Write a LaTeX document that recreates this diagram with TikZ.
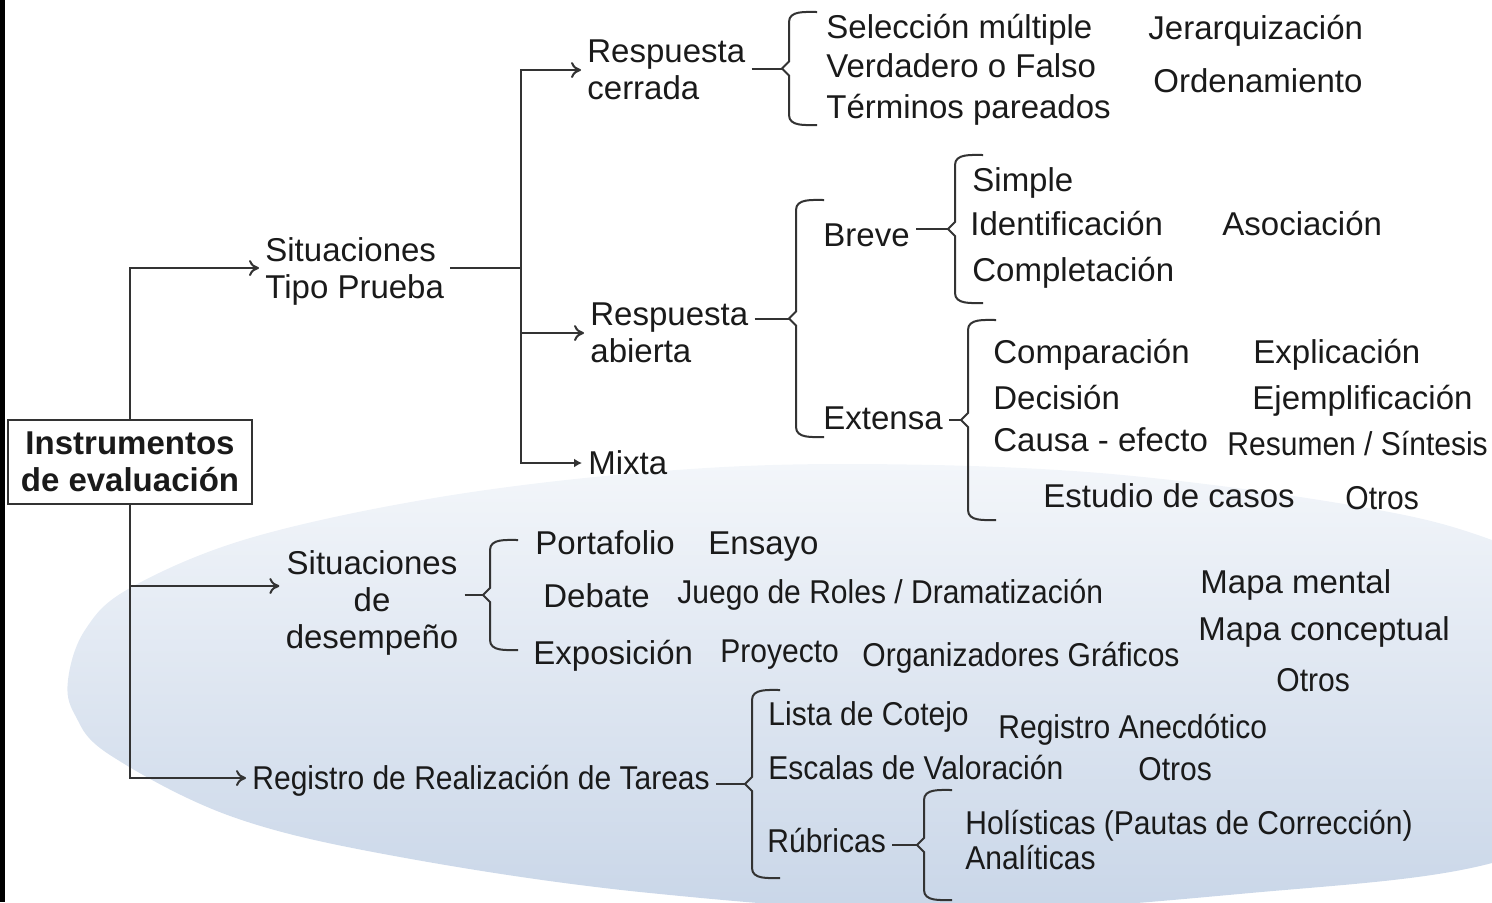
\documentclass[tikz,border=0pt]{standalone}
\usepackage{fontspec}
\setmainfont{Liberation Sans}
\newfontfamily\estrecha[FakeStretch=0.91]{Liberation Sans}
\usetikzlibrary{arrows.meta}
\definecolor{tinta}{HTML}{1A1A1A}
\definecolor{trazo}{HTML}{333333}
\definecolor{elipsearriba}{HTML}{F3F6FA}
\definecolor{elipseabajo}{HTML}{C9D6E8}
\tikzstyle{letra}=[
      text = tinta,
      font = \fontsize{16.5}{18.5}\selectfont
      ]
\tikzstyle{texto}=[
      letra,
      anchor = west,
      inner sep = 0pt,
      text height = 13pt,
      text depth = 2pt
      ]
\tikzstyle{angosto}=[texto, font = \estrecha\fontsize{16.5}{18.5}\selectfont]
\tikzstyle{rama}=[texto, inner sep = 3pt]
\tikzstyle{rama2}=[letra, anchor = west, inner sep = 3pt, align = left]
\tikzstyle{linea}=[draw = trazo, line width = 1pt]
\tikzstyle{flecha}=[linea, -{To[length=5pt,width=8pt]}]
\tikzstyle{flechallena}=[linea, -{Latex[length=4pt,width=4.5pt]}]
\tikzstyle{caja}=[
      rectangle,
      draw = trazo,
      line width = 1pt,
      fill = white,
      minimum width = 122pt,
      minimum height = 42pt,
      align = center,
      text = tinta,
      font = \bfseries\fontsize{16.5}{18.5}\selectfont
      ]
% llave: punta, x, y arriba, y abajo
\newcommand{\llave}[4]{%
  \draw[linea] ({#2+28},#3) to[out=180,in=90] (#2,{#3+10})
    -- (#2,{(#3+#4)/2-7}) -- ({#2-7},{(#3+#4)/2}) -- (#2,{(#3+#4)/2+7})
    -- (#2,{#4-10}) to[out=-90,in=180] ({#2+28},#4);
  \coordinate (#1) at ({#2-7},{(#3+#4)/2});}

\begin{document}
\begin{tikzpicture}[x=0.5pt, y=-0.5pt]
\useasboundingbox (0,0) rectangle (1492,902);
\begin{scope}
  \clip (0,0) rectangle (1492,902);
  \shade[top color=elipsearriba, bottom color=elipseabajo]
    plot[smooth cycle, tension=0.6] coordinates {
      (68,680) (85,630) (130,588) (250,538) (440,497) (650,472)
      (850,464) (1100,473) (1350,505) (1492,540) (1640,610) (1700,700)
      (1640,790) (1492,863) (1250,893) (950,912) (650,893) (400,857)
      (233,817) (110,755) (75,715)};
\end{scope}
\fill[black] (0,0) rectangle (5,902);

% raiz
\node [caja] (inst) at (130,462) {Instrumentos\\de evaluación};

% situaciones tipo prueba
\node [rama2] (stp) at (259,271) {Situaciones\\Tipo Prueba};
\coordinate (j1) at (521,268);
\node [rama2] (rc) at (581,70) {Respuesta\\cerrada};
\node [rama2] (ra) at (584,333) {Respuesta\\abierta};
\node [rama] (mx) at (582,463) {Mixta};

\node [texto] (selm) at (826,27) {Selección múltiple};
\node [texto] (vf) at (826,66) {Verdadero o Falso};
\node [texto] (tp) at (826,107) {Términos pareados};
\node [texto] (jer) at (1148,28) {Jerarquización};
\node [texto] (ord) at (1153,81) {Ordenamiento};

\node [rama] (breve) at (817,235) {Breve};
\node [rama] (ext) at (817,418) {Extensa};
\node [texto] (simp) at (972,180) {Simple};
\node [texto] (iden) at (970,224) {Identificación};
\node [texto] (comp) at (972,270) {Completación};
\node [texto] (asoc) at (1222,224) {Asociación};
\node [texto] (compa) at (993,352) {Comparación};
\node [texto] (deci) at (993,398) {Decisión};
\node [texto] (causa) at (993,440) {Causa - efecto};
\node [texto] (estu) at (1043,496) {Estudio de casos};
\node [texto] (expl) at (1253,352) {Explicación};
\node [texto] (ejem) at (1252,398) {Ejemplificación};
\node [angosto] (resu) at (1227,444) {Resumen / Síntesis};
\node [angosto] (otros1) at (1345,498) {Otros};

% situaciones de desempeno
\node [rama2, align=center, anchor=center] (sdd) at (372,603) {Situaciones\\de\\desempeño};
\node [texto] (port) at (535,543) {Portafolio};
\node [texto] (ensa) at (708,543) {Ensayo};
\node [texto] (deba) at (543,596) {Debate};
\node [angosto] (jueg) at (677,592) {Juego de Roles / Dramatización};
\node [texto] (expo) at (533,653) {Exposición};
\node [angosto] (proy) at (720,651) {Proyecto};
\node [angosto] (orga) at (862,655) {Organizadores Gráficos};
\node [texto] (mmen) at (1200,582) {Mapa mental};
\node [texto] (mcon) at (1198,629) {Mapa conceptual};
\node [angosto] (otros2) at (1276,680) {Otros};

% registro de tareas
\node [angosto, inner sep=3pt] (reg) at (246,778) {Registro de Realización de Tareas};
\node [angosto] (list) at (768,714) {Lista de Cotejo};
\node [angosto] (anec) at (998,727) {Registro Anecdótico};
\node [angosto] (esca) at (768,768) {Escalas de Valoración};
\node [angosto] (otros3) at (1138,769) {Otros};
\node [angosto, inner sep=3pt] (rubr) at (761,841) {Rúbricas};
\node [angosto] (holi) at (965,823) {Holísticas (Pautas de Corrección)};
\node [angosto] (anal) at (965,858) {Analíticas};

% llaves
\llave{t1}{789}{12}{125}
\llave{t2}{796}{200}{437}
\llave{t3}{955}{155}{303}
\llave{t4}{968}{320}{520}
\llave{t5}{490}{540}{650}
\llave{t6}{752}{690}{878}
\llave{t7}{924}{790}{900}

% conectores
\draw[flecha] (inst.north) |- (stp.west |- j1);
\draw[flecha] (inst.south) |- ([yshift=8.5pt]sdd.west);
\draw[flecha] (inst.south) |- (reg.west);
\draw[linea] (stp.east |- j1) -- (j1);
\draw[flecha] (j1) |- (rc.west);
\draw[flecha] (j1) |- (ra.west);
\draw[flechallena] (j1) |- (mx.west);
\draw[linea] (rc.east |- t1) -- (t1);
\draw[linea] (ra.east |- t2) -- (t2);
\draw[linea] (breve.east |- t3) -- (t3);
\draw[linea] (ext.east |- t4) -- (t4);
\draw[linea] (sdd.east |- t5) -- (t5);
\draw[linea] (reg.east |- t6) -- (t6);
\draw[linea] (rubr.east |- t7) -- (t7);
\end{tikzpicture}
\end{document}
